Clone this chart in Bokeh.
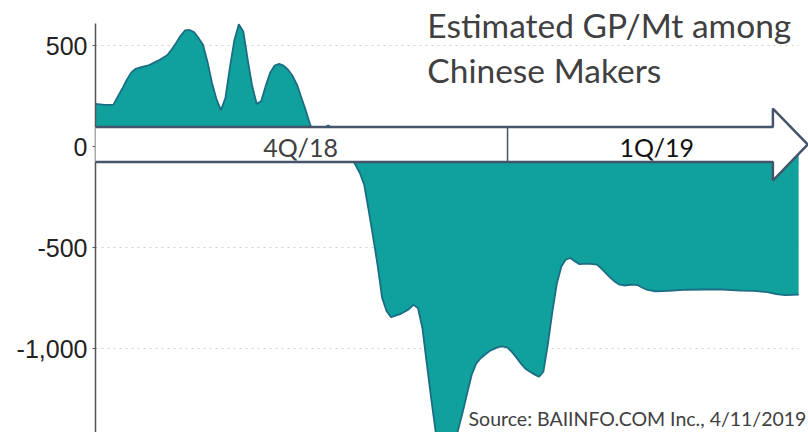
from bokeh.plotting import figure
from bokeh.models import (Range1d, FixedTicker, NumeralTickFormatter, PolyAnnotation,
                          Label, Arrow)
from bokeh.embed import file_html
from bokeh.resources import INLINE

# days since 2018-10-01 and estimated gross profit per tonne (yuan/t)
days = [0, 2, 4, 5, 6, 7, 8, 9, 10, 12, 14, 16, 17, 18, 19, 20, 21, 22, 23, 24,
        25, 26, 27, 28, 29, 30, 31, 32, 33, 34, 35, 36, 37, 38, 39, 40, 41, 42, 43, 44,
        45, 46, 47, 48, 49, 51, 52, 53, 55, 57, 58, 59, 60, 61, 62, 63, 64, 65, 66, 68,
        69, 70, 71, 72, 73, 74, 75, 76, 77, 78, 79, 80, 81, 82, 83, 84, 85, 86, 87, 88,
        90, 91, 92, 93, 94, 95, 96, 97, 98, 99, 100, 101, 102, 103, 104, 105, 106, 107, 108, 110,
        112, 113, 114, 115, 116, 117, 118, 120, 121, 122, 123, 125, 128, 132, 136, 140, 144, 147, 150, 152,
        154, 157]
gp_mt = [211, 206, 207, 248, 287, 331, 367, 385, 392, 403, 425, 452, 480, 512, 548, 575, 577, 567, 537, 504,
         420, 316, 235, 180, 240, 390, 525, 605, 570, 428, 298, 210, 225, 300, 365, 401, 409, 400, 380, 350,
         305, 240, 175, 104, 70, 90, 105, 85, 20, -50, -90, -130, -190, -317, -450, -590, -750, -815, -845, -830,
         -818, -805, -784, -800, -900, -1080, -1255, -1420, -1530, -1580, -1570, -1480, -1400, -1315, -1220, -1130, -1075, -1048, -1030, -1012,
         -992, -990, -996, -1018, -1045, -1075, -1100, -1115, -1128, -1140, -1115, -980, -820, -680, -595, -560, -552, -568, -582, -580,
         -585, -605, -628, -650, -670, -684, -688, -684, -686, -698, -708, -717, -714, -709, -708, -708, -713, -715, -721, -731,
         -736, -733]

y_ticks = [-1000, -500, 0, 500]
quarters = ["4Q/18", "1Q/19"]
quarter_mid = [45.8, 125.3]
quarter_split = 92
title_lines = ["Estimated GP/Mt among", "Chinese Makers"]
source_text = "Source: BAIINFO.COM Inc., 4/11/2019"

p = figure(width=808, height=432, output_backend="svg", toolbar_location=None,
           x_range=Range1d(0, 159.2), y_range=Range1d(-1415.8, 722.8),
           min_border_left=95, min_border_right=0, min_border_top=0, min_border_bottom=0)
p.outline_line_color = None
p.xaxis.visible = False
p.xgrid.visible = False
p.ygrid.visible = False

ax = p.yaxis[0]
ax.bounds = (-1415.8, 608.9)
ax.ticker = FixedTicker(ticks=y_ticks)
ax.formatter = NumeralTickFormatter(format="0,0")
ax.axis_line_color = "#555555"
ax.axis_line_width = 1.5
ax.major_tick_line_color = "#555555"
ax.major_tick_out = 3
ax.major_tick_in = 0
ax.minor_tick_line_color = None
ax.major_label_text_font = "Liberation Sans"
ax.major_label_text_font_size = "25px"
ax.major_label_text_color = "#222222"
ax.major_label_standoff = 5

# dotted gridlines spanning the data
p.segment(x0=[days[0]] * len(y_ticks), x1=[days[-1]] * len(y_ticks), y0=y_ticks, y1=y_ticks,
          line_color="#cfcfcf", line_width=1, line_dash="2 4")

p.varea(x=days, y1=0, y2=gp_mt, fill_color="#10a19c")
p.line(days, gp_mt, line_color="#1b6d85", line_width=1.8)

# timeline arrow
arrow_xs = [-0.45, 151.25, 151.25, 159.0, 151.25, 151.25, -0.45]
arrow_ys = [96.5, 96.5, 188, 9.9, -168.3, -76.7, -76.7]
p.add_layout(PolyAnnotation(xs=arrow_xs, ys=arrow_ys, fill_color="white", fill_alpha=1,
                            line_color="#44546a", line_alpha=1, line_width=2.5))
p.add_layout(Arrow(end=None, x_start=quarter_split, x_end=quarter_split, y_start=96.5, y_end=-76.7,
                   line_color="#44546a", line_width=1.5))
for q, xm, col in zip(quarters, quarter_mid, ["#404040", "#111111"]):
    p.add_layout(Label(x=xm, y=-4, text=q, text_align="center", text_baseline="alphabetic",
                       text_font="Lato", text_font_size="25px", text_color=col))

p.add_layout(Label(x=74.1, y=601, text=title_lines[0], text_baseline="alphabetic",
                   text_font="Lato", text_font_size="33.5px", text_color="#404040"))
p.add_layout(Label(x=74.1, y=378, text=title_lines[1], text_baseline="alphabetic",
                   text_font="Lato", text_font_size="33.5px", text_color="#404040"))
p.add_layout(Label(x=83.3, y=-1345, text=source_text, text_baseline="alphabetic",
                   text_font="Lato", text_font_size="19.5px", text_color="#404040"))

open("out.html", "w").write(file_html(p, INLINE))
